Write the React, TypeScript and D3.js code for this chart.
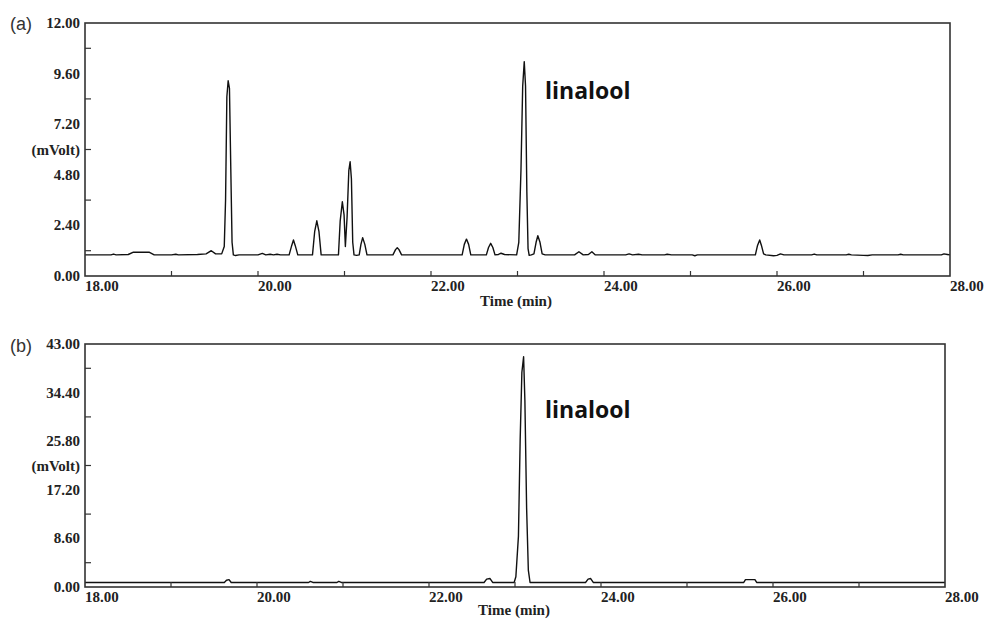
import React from "react";
import * as d3 from "d3";

// ---------- data ----------
const xTickLabels = ["18.00", "20.00", "22.00", "24.00", "26.00", "28.00"];
const xTickValues = [18, 20, 22, 24, 26, 28];
const xMinorTicks = [19, 20, 21, 22, 23, 24, 25, 26, 27];

const yLabelsA = ["0.00", "2.40", "4.80", "(mVolt)", "7.20", "9.60", "12.00"];
const yLabelValuesA = [0, 2.4, 4.8, 6.0, 7.2, 9.6, 12];
const yMinorTicksA = [1.2, 3.6, 6.0, 8.4, 10.8];

const yLabelsB = ["0.00", "8.60", "17.20", "(mVolt)", "25.80", "34.40", "43.00"];
const yLabelValuesB = [0, 8.6, 17.2, 21.5, 25.8, 34.4, 43];
const yMinorTicksB = [4.3, 12.9, 21.5, 30.1, 38.7];

// chromatogram (a): [time min, mV]
const traceA: [number, number][] = [
  [18.0, 1.0], [18.3, 1.0], [18.33, 1.04], [18.36, 1.0],
  [18.5, 1.02], [18.56, 1.13], [18.74, 1.13], [18.8, 1.0],
  [19.0, 1.0], [19.05, 1.03], [19.08, 1.0],
  [19.3, 1.02], [19.4, 1.05], [19.46, 1.2], [19.51, 1.05], [19.58, 1.05],
  [19.61, 1.4], [19.625, 3.6], [19.64, 8.5], [19.655, 9.26], [19.67, 8.9], [19.685, 5.2], [19.7, 1.6], [19.715, 1.0], [19.74, 0.97], [19.78, 1.0],
  [20.0, 1.0], [20.05, 1.07], [20.09, 1.0], [20.14, 1.03], [20.18, 1.0], [20.22, 1.03], [20.26, 1.0],
  [20.36, 1.0], [20.39, 1.45], [20.41, 1.71], [20.43, 1.45], [20.46, 1.0],
  [20.63, 1.0], [20.655, 2.1], [20.68, 2.62], [20.705, 2.1], [20.73, 1.0],
  [20.93, 1.0], [20.95, 2.6], [20.975, 3.52], [20.995, 2.9], [21.01, 1.4], [21.03, 2.8], [21.05, 5.0], [21.065, 5.42], [21.08, 4.6], [21.095, 1.6], [21.11, 1.0], [21.14, 0.98],
  [21.17, 1.0], [21.19, 1.5], [21.21, 1.82], [21.235, 1.5], [21.26, 1.0],
  [21.56, 1.0], [21.59, 1.25], [21.61, 1.34], [21.63, 1.25], [21.66, 1.0],
  [22.36, 1.0], [22.385, 1.5], [22.41, 1.75], [22.435, 1.5], [22.46, 1.0],
  [22.64, 1.0], [22.665, 1.35], [22.69, 1.55], [22.715, 1.35], [22.74, 1.0],
  [22.78, 1.02], [22.81, 1.08], [22.85, 1.02],
  [22.99, 1.0], [23.015, 1.6], [23.04, 5.0], [23.06, 9.0], [23.078, 10.17], [23.093, 9.0], [23.108, 4.0], [23.122, 1.3], [23.135, 0.98], [23.16, 1.0],
  [23.19, 1.05], [23.215, 1.6], [23.235, 1.91], [23.26, 1.6], [23.285, 1.05], [23.32, 1.0],
  [23.66, 1.0], [23.71, 1.15], [23.76, 1.0], [23.82, 1.02], [23.86, 1.15], [23.9, 1.0],
  [24.25, 1.0], [24.29, 1.05], [24.33, 1.0], [24.4, 1.03], [24.44, 1.0],
  [24.7, 1.0], [24.73, 1.03], [24.78, 1.0], [25.02, 1.0], [25.05, 0.96], [25.08, 1.0],
  [25.75, 1.0], [25.775, 1.45], [25.8, 1.71], [25.82, 1.45], [25.845, 1.05], [25.87, 1.0],
  [25.96, 0.96], [26.0, 0.98], [26.04, 1.05], [26.08, 1.0],
  [26.4, 1.0], [26.43, 1.04], [26.46, 1.0], [26.8, 1.0], [26.83, 1.03], [26.86, 1.0],
  [27.0, 0.98], [27.05, 0.97], [27.1, 1.0], [27.4, 1.0], [27.43, 1.03], [27.46, 1.0],
  [27.9, 1.0], [27.93, 1.05], [27.97, 1.02], [28.0, 1.0],
];

// chromatogram (b): [time min, mV]
const traceB: [number, number][] = [
  [18.0, 0.8], [19.62, 0.8], [19.645, 1.2], [19.675, 1.3], [19.7, 0.8],
  [20.6, 0.8], [20.62, 1.0], [20.65, 0.8], [20.93, 0.8], [20.95, 1.0], [20.98, 0.8],
  [22.64, 0.8], [22.67, 1.4], [22.71, 1.5], [22.74, 0.8],
  [22.99, 0.8], [23.01, 1.8], [23.04, 9], [23.06, 26], [23.08, 38], [23.1, 40.75], [23.115, 33], [23.135, 14], [23.155, 3], [23.175, 0.8],
  [23.82, 0.8], [23.85, 1.4], [23.88, 1.5], [23.91, 0.8],
  [25.66, 0.8], [25.68, 1.3], [25.79, 1.3], [25.81, 0.8], [28.0, 0.8],
];

const peakLabel = "linalool";

// ---------- component ----------
type PanelProps = {
  tag: string;
  left: number; right: number; top: number; bottom: number;
  yMax: number;
  yLabels: string[]; yLabelValues: number[]; yMinor: number[];
  trace: [number, number][];
  labelX: number; labelY: number;
  xTitleX: number; xTitleY: number;
  tagY: number;
};

const serif = "'Liberation Serif', 'Times New Roman', serif";
const ink = "#222";

function Panel(p: PanelProps) {
  const x = d3.scaleLinear().domain([18, 28]).range([p.left, p.right]);
  const y = d3.scaleLinear().domain([0, p.yMax]).range([p.bottom, p.top]);
  const line = d3.line<[number, number]>().x((d) => x(d[0])).y((d) => y(d[1]));
  return (
    <g>
      <text x={10} y={p.tagY} fontFamily="'Liberation Sans', Arial, sans-serif" fontSize={18} fill="#333">{p.tag}</text>
      <path d={line(p.trace) || ""} fill="none" stroke="#111" strokeWidth={1.4} strokeLinejoin="round" />
      <rect x={p.left} y={p.top} width={p.right - p.left} height={p.bottom - p.top} fill="none" stroke="#333" strokeWidth={1.6} />
      {p.yMinor.map((v, i) => (
        <line key={"ym" + i} x1={p.left} x2={p.left + 6} y1={y(v)} y2={y(v)} stroke="#333" strokeWidth={1.2} />
      ))}
      {xMinorTicks.map((v, i) => (
        <line key={"xm" + i} x1={x(v)} x2={x(v)} y1={p.bottom} y2={p.bottom - 5} stroke="#333" strokeWidth={1.2} />
      ))}
      {p.yLabels.map((s, i) => (
        <text key={"yl" + i} x={p.left - 5} y={y(p.yLabelValues[i]) + 5} textAnchor="end" fontFamily={serif} fontWeight="bold" fontSize={15} fill={ink}>{s}</text>
      ))}
      {xTickLabels.map((s, i) => (
        <text key={"xl" + i} x={x(xTickValues[i])} y={p.bottom + 15} textAnchor="start" fontFamily={serif} fontWeight="bold" fontSize={15} fill={ink}>{s}</text>
      ))}
      <text x={p.xTitleX} y={p.xTitleY} textAnchor="middle" fontFamily={serif} fontWeight="bold" fontSize={15} fill={ink}>Time (min)</text>
      <text x={p.labelX} y={p.labelY} fontFamily="'Open Sans', sans-serif" fontWeight="bold" fontSize={23} fill="#111">{peakLabel}</text>
    </g>
  );
}

export default function App() {
  return (
    <div style={{ position: "absolute", left: 0, top: 0 }}>
      <svg width={984} height={622} style={{ display: "block", background: "#fff" }}>
        <Panel tag="(a)" left={85} right={950} top={23} bottom={276} yMax={12}
          yLabels={yLabelsA} yLabelValues={yLabelValuesA} yMinor={yMinorTicksA}
          trace={traceA} labelX={545} labelY={99} xTitleX={516} xTitleY={306} tagY={30} />
        <Panel tag="(b)" left={85} right={945} top={344} bottom={587} yMax={43}
          yLabels={yLabelsB} yLabelValues={yLabelValuesB} yMinor={yMinorTicksB}
          trace={traceB} labelX={545} labelY={418} xTitleX={514} xTitleY={615} tagY={352} />
      </svg>
    </div>
  );
}
